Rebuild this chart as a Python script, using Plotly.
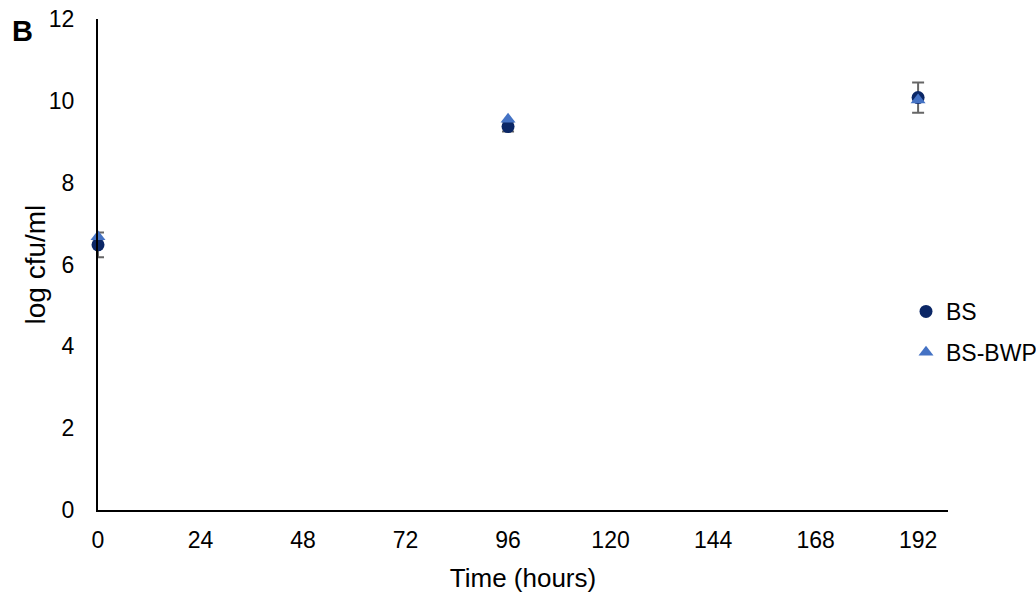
import plotly.graph_objects as go

# Sampling times (hours)
time_h = [0, 96, 192]

# Viable counts, log cfu/ml
bs_log = [6.48, 9.37, 10.08]
bs_err = [0.30, 0.12, 0.37]
bwp_log = [6.68, 9.55, 10.02]

x_ticks = [0, 24, 48, 72, 96, 120, 144, 168, 192]
y_ticks = [0, 2, 4, 6, 8, 10, 12]

FONT = "Liberation Sans, Arial, sans-serif"
W, H = 1036, 594
L, R, T, B = 98, 88, 19, 84
PW = W - L - R

fig = go.Figure()

fig.add_trace(go.Scatter(
    x=time_h, y=bs_log, name="BS", mode="markers", legendgroup="bs",
    marker=dict(symbol="circle", size=13, color="#0b2766"),
    error_y=dict(type="data", array=bs_err, visible=True,
                 color="#666666", thickness=2, width=6),
    cliponaxis=False,
))
fig.add_trace(go.Scatter(
    x=time_h, y=bwp_log, name="BS-BWP", mode="markers", legendgroup="bwp",
    marker=dict(symbol="triangle-up", size=13, color="#4472c4"),
    cliponaxis=False,
))

fig.update_layout(
    width=W, height=H,
    margin=dict(l=L, r=R, t=T, b=B, autoexpand=False),
    paper_bgcolor="white", plot_bgcolor="white",
    font=dict(family=FONT, size=23, color="black"),
    showlegend=True,
    legend=dict(xref="container", yref="container",
                x=906 / W, y=1 - 290 / H, xanchor="left", yanchor="top",
                bgcolor="rgba(0,0,0,0)", traceorder="grouped",
                tracegroupgap=8, font=dict(size=23)),
    annotations=[
        dict(text="<b>B</b>", x=(10 - L) / PW, y=1.012,
             xref="paper", yref="paper", xanchor="left", yanchor="top",
             showarrow=False, font=dict(size=29)),
        dict(text="log cfu/ml", x=(35 - L) / PW, y=0.5,
             xref="paper", yref="paper", xanchor="center", yanchor="middle",
             textangle=-90, showarrow=False, font=dict(size=28)),
    ],
)

fig.update_xaxes(
    range=[0, 199], tickvals=x_ticks, ticktext=[str(v) for v in x_ticks],
    showgrid=False, zeroline=False, showline=True, linecolor="black",
    linewidth=2, ticks="", tickfont=dict(size=23), ticklabelstandoff=8,
    title=dict(text="Time (hours)", font=dict(size=26), standoff=17),
)
fig.update_yaxes(
    range=[0, 12], tickvals=y_ticks, ticktext=[str(v) for v in y_ticks],
    showgrid=False, zeroline=False, showline=True, linecolor="black",
    linewidth=2, ticks="", tickfont=dict(size=23), ticklabelstandoff=17,
)

fig.write_html("out.html")
